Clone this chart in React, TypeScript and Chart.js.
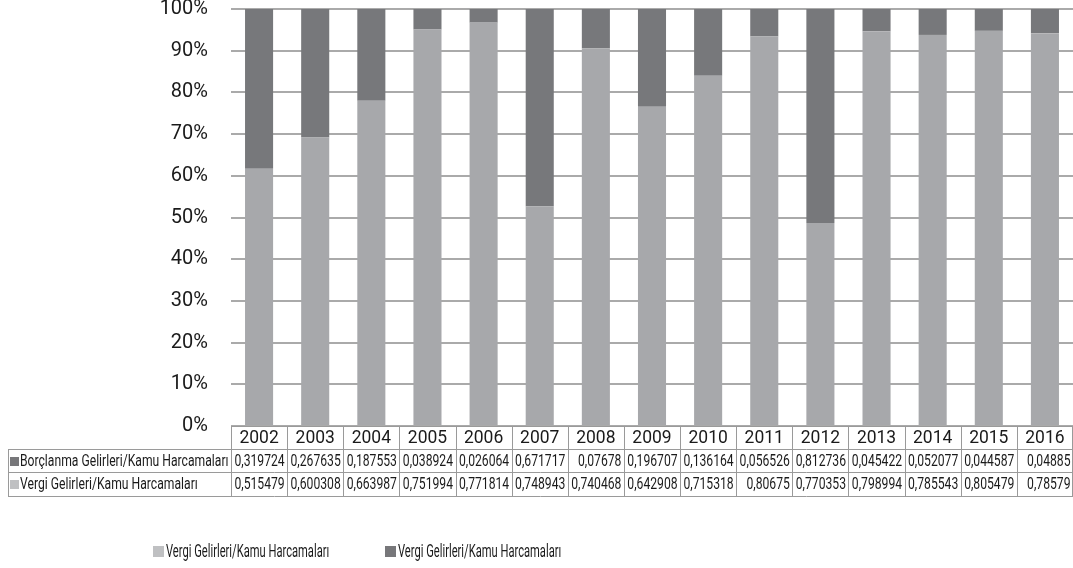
import React, { useEffect, useRef } from "react";
import { Chart, registerables } from "chart.js";

Chart.register(...registerables);

const years = ["2002", "2003", "2004", "2005", "2006", "2007", "2008", "2009", "2010", "2011", "2012", "2013", "2014", "2015", "2016"];
const borrowingValues = [0.319724, 0.267635, 0.187553, 0.038924, 0.026064, 0.671717, 0.07678, 0.196707, 0.136164, 0.056526, 0.812736, 0.045422, 0.052077, 0.044587, 0.04885];
const taxValues = [0.515479, 0.600308, 0.663987, 0.751994, 0.771814, 0.748943, 0.740468, 0.642908, 0.715318, 0.80675, 0.770353, 0.798994, 0.785543, 0.805479, 0.78579];
const rowLabels = ["Borçlanma Gelirleri/Kamu Harcamaları", "Vergi Gelirleri/Kamu Harcamaları"];
const legendLabels = ["Vergi Gelirleri/Kamu Harcamaları", "Vergi Gelirleri/Kamu Harcamaları"];
const yTicks = [0, 10, 20, 30, 40, 50, 60, 70, 80, 90, 100];

const LIGHT = "#a7a8ab";
const DARK = "#77787b";
const LIGHT_SWATCH = "#bfc0c2";
const DARK_SWATCH = "#77777a";
const FONT = '"Roboto", sans-serif';

const taxPct = taxValues.map((v, i) => (v / (v + borrowingValues[i])) * 100);
const borrowPct = borrowingValues.map((v, i) => (v / (v + taxValues[i])) * 100);

const fmt = (v: number) => String(v).replace(".", ",");

function condensed(ctx: any, text: string, x: number, y: number, f: number) {
  ctx.save();
  ctx.translate(x, y);
  ctx.scale(f, 1);
  ctx.fillText(text, 0, 0);
  ctx.restore();
}

const tablePlugin = {
  id: "dataTable",
  afterDraw(chart: any) {
    const ctx = chart.ctx;
    const xs = chart.scales.x;
    const area = chart.chartArea;
    const half = (area.right - area.left) / years.length / 2;
    const top = area.bottom;
    const r1 = top + 23;
    const r2 = r1 + 23;
    const r3 = r2 + 24;
    const leftEdge = 8.5;
    const right = area.right - 0.5;
    ctx.save();
    ctx.strokeStyle = "#9a9a9a";
    ctx.lineWidth = 1;
    const line = (x1: number, y1: number, x2: number, y2: number) => {
      ctx.beginPath();
      ctx.moveTo(x1, y1);
      ctx.lineTo(x2, y2);
      ctx.stroke();
    };
    line(area.left, Math.round(top) + 0.5, right, Math.round(top) + 0.5);
    [r1, r2, r3].forEach((y) => line(leftEdge, Math.round(y) + 0.5, right, Math.round(y) + 0.5));
    line(leftEdge, Math.round(r1), leftEdge, Math.round(r3) + 1);
    for (let i = 0; i <= years.length; i++) {
      const x = i < years.length ? xs.getPixelForValue(i) - half : xs.getPixelForValue(years.length - 1) + half;
      const xx = Math.min(Math.round(x) + 0.5, right);
      line(xx, Math.round(top), xx, Math.round(r3) + 1);
    }
    ctx.fillStyle = "#1a1a1a";
    ctx.textBaseline = "middle";
    ctx.textAlign = "center";
    ctx.font = "19px " + FONT;
    years.forEach((y, i) => condensed(ctx, y, xs.getPixelForValue(i), (top + r1) / 2 + 1, 0.92));
    const rows = [borrowingValues, taxValues];
    const sw = [DARK_SWATCH, LIGHT_SWATCH];
    const rowTops = [r1, r2];
    const rowBots = [r2, r3];
    rows.forEach((vals, ri) => {
      const cy = (rowTops[ri] + rowBots[ri]) / 2 + 1;
      ctx.fillStyle = sw[ri];
      ctx.fillRect(10, Math.round(cy - 5), 9, 9);
      ctx.fillStyle = "#1a1a1a";
      ctx.textAlign = "left";
      ctx.font = "17px " + FONT;
      condensed(ctx, rowLabels[ri], 20, cy, 0.715);
      ctx.textAlign = "right";
      ctx.font = "16px " + FONT;
      vals.forEach((v, i) => condensed(ctx, fmt(v), xs.getPixelForValue(i) + half - 2.5, cy, 0.76));
    });
    // legend
    const ly = 552;
    const lx = [153, 385];
    const lc = [LIGHT_SWATCH, DARK_SWATCH];
    ctx.font = "18px " + FONT;
    ctx.textAlign = "left";
    legendLabels.forEach((t, i) => {
      ctx.fillStyle = lc[i];
      ctx.fillRect(lx[i], ly - 6, 11, 11);
      ctx.fillStyle = "#1a1a1a";
      condensed(ctx, t, lx[i] + 13, ly, 0.62);
    });
    ctx.restore();
  },
};

export default function App() {
  const ref = useRef<HTMLCanvasElement | null>(null);
  useEffect(() => {
    document.body.style.margin = "0";
    const canvas = ref.current;
    if (!canvas) return;
    const chart = new Chart(canvas, {
      type: "bar",
      data: {
        labels: years,
        datasets: [
          { label: rowLabels[1], data: taxPct, backgroundColor: LIGHT, barPercentage: 0.5, categoryPercentage: 1 },
          { label: rowLabels[0], data: borrowPct, backgroundColor: DARK, barPercentage: 0.5, categoryPercentage: 1 },
        ],
      },
      options: {
        responsive: false,
        animation: false,
        layout: { padding: { top: 9, left: 0, right: 0, bottom: 0 } },
        plugins: { legend: { display: false }, tooltip: { enabled: false } },
        scales: {
          x: {
            stacked: true,
            grid: { display: false },
            border: { display: false },
            ticks: { display: false },
            afterFit: (s: any) => {
              s.height = 568 - 426;
            },
          },
          y: {
            stacked: true,
            min: 0,
            max: 100,
            afterBuildTicks: (s: any) => {
              s.ticks = yTicks.map((v) => ({ value: v }));
            },
            ticks: {
              padding: 23,
              color: "#1a1a1a",
              font: { family: "Roboto", size: 20 },
              callback: (v: any) => v + "%",
            },
            grid: { color: "#aaaaaa", lineWidth: 2, drawTicks: false },
            border: { display: false },
            afterFit: (s: any) => {
              s.width = 231;
              s.paddingTop = 0;
              s.paddingBottom = 0;
            },
          },
        },
      },
      plugins: [tablePlugin],
    });
    return () => chart.destroy();
  }, []);
  return <canvas ref={ref} width={1073} height={568} style={{ display: "block" }} />;
}
